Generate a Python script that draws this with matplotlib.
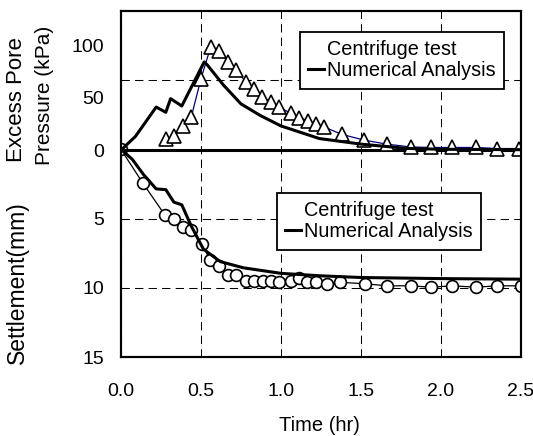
import matplotlib
matplotlib.use('Agg')
import matplotlib.pyplot as plt
from matplotlib.lines import Line2D

plt.rcParams['font.family'] = ['Liberation Sans', 'DejaVu Sans']
plt.rcParams['font.size'] = 14

# excess pore pressure (kPa) - centrifuge test
t_pp_test = [0.28, 0.33, 0.39, 0.44, 0.50, 0.56, 0.61, 0.67, 0.72, 0.78, 0.83, 0.88,
             0.94, 0.99, 1.06, 1.11, 1.17, 1.22, 1.27, 1.38, 1.52, 1.66, 1.81, 1.94,
             2.07, 2.22, 2.35, 2.49]
pp_test = [11, 13, 23, 32, 68, 98, 94, 84, 76, 65, 58, 51,
           46, 41, 35, 31, 28, 25, 22, 15, 9.5, 5.7, 3, 2.5,
           2.5, 2.5, 1.5, 1.5]

# excess pore pressure (kPa) - numerical analysis
t_pp_num = [0, 0.09, 0.22, 0.28, 0.31, 0.38, 0.52, 0.54, 0.64, 0.75, 0.87, 1.0,
            1.24, 1.5, 1.79, 2.0, 2.5]
pp_num = [0, 13, 41, 36, 49, 42, 84, 81, 62, 44, 33, 23,
          11, 5.7, 1.6, 0.8, 0.4]

# settlement (mm) - centrifuge test
t_st_test = [0, 0.135, 0.275, 0.33, 0.385, 0.44, 0.505, 0.555, 0.61, 0.67, 0.72, 0.78,
             0.83, 0.89, 0.94, 0.99, 1.06, 1.11, 1.16, 1.22, 1.285, 1.37, 1.525, 1.66,
             1.81, 1.94, 2.07, 2.22, 2.35, 2.5]
st_test = [0, 2.4, 4.75, 5.05, 5.6, 5.85, 6.8, 7.95, 8.45, 9.05, 9.05, 9.5,
           9.5, 9.5, 9.5, 9.6, 9.5, 9.25, 9.6, 9.6, 9.75, 9.6, 9.7, 9.85,
           9.85, 9.95, 9.85, 9.95, 9.85, 9.85]

# settlement (mm) - numerical analysis
t_st_num = [0, 0.07, 0.14, 0.22, 0.28, 0.33, 0.38, 0.44, 0.515, 0.62, 0.765, 1.0,
            1.25, 1.5, 2.0, 2.5]
st_num = [0, 0.7, 1.8, 2.85, 2.9, 3.8, 4.0, 5.55, 7.2, 8.1, 8.55, 8.95,
          9.13, 9.25, 9.33, 9.37]

fig = plt.figure(figsize=(5.33, 4.36), dpi=100)
ax = fig.add_axes([0.227, 0.181, 0.7505, 0.7936])   # settlement axis
ax2 = ax.twinx()                                      # pressure axis

ax.set_xlim(0, 2.5)
ax.set_ylim(15, -10)
ax.set_xticks([0, 0.5, 1.0, 1.5, 2.0, 2.5])
ax.set_xticklabels(['0.0', '0.5', '1.0', '1.5', '2.0', '2.5'])
ax.set_yticks([-5, 5, 10, 15])
ax.set_yticklabels(['', '5', '10', '15'])
ax.grid(True, color='k', lw=0.75, linestyle=(0, (8, 5)))
ax.tick_params(length=0)
ax.tick_params(axis='y', pad=12)
ax.tick_params(axis='x', pad=19)

ax2.set_ylim(-197.1, 132.4)
ax2.yaxis.tick_left()
ax2.set_yticks([0, 50, 100])
ax2.tick_params(length=0, pad=12)

for a in (ax, ax2):
    for sp in a.spines.values():
        sp.set_linewidth(1.5)

ax2.axhline(0, color='k', lw=2.2)

ax2.plot(t_pp_test, pp_test, color='navy', lw=0.9, marker='^', ms=9.5,
         mfc='white', mec='k', mew=1.2)
ax2.plot(t_pp_num, pp_num, color='k', lw=2.2)

ax.plot(t_st_test, st_test, color='k', lw=0.9, marker='o', ms=8.5,
        mfc='white', mec='k', mew=1.2, zorder=3)
ax.plot(t_st_num, st_num, color='k', lw=2.2, zorder=3)

handles = [Line2D([], [], linestyle='none'), Line2D([], [], color='k', lw=2.2)]
labels = ['Centrifuge test', 'Numerical Analysis']
leg_kw = dict(loc='upper left', bbox_transform=fig.transFigure, borderaxespad=0,
              fancybox=False, framealpha=1, edgecolor='k', handlelength=0.8,
              handletextpad=0.15, labelspacing=0.1, borderpad=0.42, fontsize=14.3)
leg1 = ax2.legend(handles, labels, bbox_to_anchor=(0.5629, 0.9266), **leg_kw)
leg1.get_frame().set_linewidth(1.3)
ax2.add_artist(leg1)
leg2 = ax2.legend(handles, labels, bbox_to_anchor=(0.5197, 0.5573), **leg_kw)
leg2.get_frame().set_linewidth(1.3)

fig.text(17 / 533, 1 - 100 / 436, 'Excess Pore', rotation=90, ha='center', va='center',
         fontsize=16)
fig.text(44.5 / 533, 1 - 95 / 436, 'Pressure (kPa)', rotation=90, ha='center', va='center',
         fontsize=15)
fig.text(17 / 533, 1 - 283 / 436, 'Settlement(mm)', rotation=90, ha='center', va='center',
         fontsize=16.5)
fig.text(319 / 533, 1 - 425 / 436, 'Time (hr)', ha='center', va='center', fontsize=14.5)

fig.savefig('out.png', dpi=100)
